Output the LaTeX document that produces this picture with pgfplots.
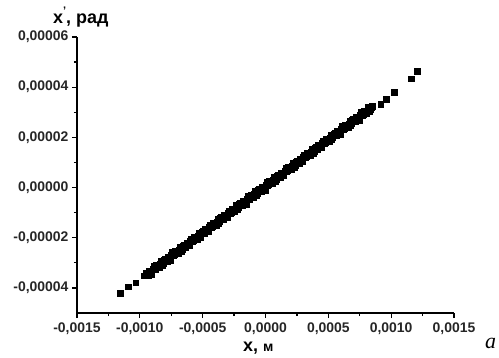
\documentclass[border=0pt]{standalone}
\usepackage{fontspec}
\setmainfont{Liberation Sans}
\newfontfamily\serifit{Liberation Serif}
\usepackage{pgfplots}
\usepackage{pgfplotstable}
\pgfplotsset{compat=1.18}

% angle x' (rad) versus displacement x (m)
\pgfplotstableread{
x y
-11.58e-4 -42.0e-6
-10.92e-4 -39.5e-6
-10.33e-4 -37.9e-6
-9.67e-4 -35.1e-6
-9.50e-4 -34.0e-6
-9.35e-4 -35.0e-6
-9.20e-4 -33.5e-6
-9.05e-4 -34.4e-6
-8.90e-4 -31.5e-6
-8.75e-4 -32.4e-6
-8.60e-4 -31.0e-6
-8.45e-4 -31.8e-6
-8.30e-4 -29.2e-6
-8.15e-4 -30.2e-6
-8.00e-4 -28.5e-6
-7.85e-4 -29.4e-6
-7.70e-4 -27.9e-6
-7.55e-4 -28.8e-6
-7.40e-4 -25.9e-6
-7.25e-4 -26.8e-6
-7.10e-4 -25.4e-6
-6.95e-4 -26.3e-6
-6.80e-4 -23.6e-6
-6.65e-4 -24.6e-6
-6.50e-4 -22.9e-6
-6.35e-4 -23.8e-6
-6.20e-4 -22.4e-6
-6.05e-4 -23.2e-6
-5.90e-4 -20.4e-6
-5.75e-4 -21.2e-6
-5.60e-4 -19.8e-6
-5.45e-4 -20.7e-6
-5.30e-4 -18.0e-6
-5.15e-4 -19.1e-6
-5.00e-4 -17.3e-6
-4.85e-4 -18.2e-6
-4.70e-4 -16.8e-6
-4.55e-4 -17.6e-6
-4.40e-4 -14.8e-6
-4.25e-4 -15.6e-6
-4.10e-4 -14.3e-6
-3.95e-4 -15.1e-6
-3.80e-4 -12.4e-6
-3.65e-4 -13.5e-6
-3.50e-4 -11.7e-6
-3.35e-4 -12.7e-6
-3.20e-4 -11.2e-6
-3.05e-4 -12.0e-6
-2.90e-4 -9.2e-6
-2.75e-4 -10.0e-6
-2.60e-4 -8.7e-6
-2.45e-4 -9.5e-6
-2.30e-4 -6.9e-6
-2.15e-4 -7.9e-6
-2.00e-4 -6.1e-6
-1.85e-4 -7.1e-6
-1.70e-4 -5.6e-6
-1.55e-4 -6.5e-6
-1.40e-4 -3.6e-6
-1.25e-4 -4.5e-6
-1.10e-4 -3.1e-6
-0.95e-4 -3.9e-6
-0.80e-4 -1.3e-6
-0.65e-4 -2.3e-6
-0.50e-4 -0.6e-6
-0.35e-4 -1.5e-6
-0.20e-4 0.0e-6
-0.05e-4 -0.9e-6
0.10e-4 2.0e-6
0.25e-4 1.1e-6
0.40e-4 2.5e-6
0.55e-4 1.7e-6
0.70e-4 4.3e-6
0.85e-4 3.3e-6
1.00e-4 5.0e-6
1.15e-4 4.1e-6
1.30e-4 5.5e-6
1.45e-4 4.7e-6
1.60e-4 7.6e-6
1.75e-4 6.7e-6
1.90e-4 8.1e-6
2.05e-4 7.2e-6
2.20e-4 9.9e-6
2.35e-4 8.8e-6
2.50e-4 10.6e-6
2.65e-4 9.7e-6
2.80e-4 11.1e-6
2.95e-4 10.3e-6
3.10e-4 13.1e-6
3.25e-4 12.3e-6
3.40e-4 13.7e-6
3.55e-4 12.8e-6
3.70e-4 15.5e-6
3.85e-4 14.4e-6
4.00e-4 16.2e-6
4.15e-4 15.2e-6
4.30e-4 16.7e-6
4.45e-4 15.9e-6
4.60e-4 18.7e-6
4.75e-4 17.9e-6
4.90e-4 19.2e-6
5.05e-4 18.4e-6
5.20e-4 21.0e-6
5.35e-4 20.0e-6
5.50e-4 21.8e-6
5.65e-4 20.8e-6
5.80e-4 22.3e-6
5.95e-4 21.4e-6
6.10e-4 24.3e-6
6.25e-4 23.5e-6
6.40e-4 24.8e-6
6.55e-4 24.0e-6
6.70e-4 26.6e-6
6.85e-4 25.6e-6
7.00e-4 27.3e-6
7.15e-4 26.4e-6
7.30e-4 27.9e-6
7.45e-4 27.0e-6
7.60e-4 29.9e-6
7.75e-4 29.0e-6
7.90e-4 30.4e-6
8.05e-4 29.6e-6
8.20e-4 32.2e-6
8.35e-4 31.2e-6
8.50e-4 32.4e-6
9.16e-4 33.3e-6
9.58e-4 35.2e-6
10.24e-4 38.0e-6
11.57e-4 43.4e-6
12.10e-4 46.5e-6
-9.425e-4 -34.86e-6
-9.275e-4 -33.40e-6
-9.125e-4 -34.24e-6
-8.975e-4 -32.49e-6
-8.825e-4 -32.43e-6
-8.675e-4 -30.87e-6
-8.525e-4 -31.81e-6
-8.375e-4 -30.35e-6
-8.225e-4 -31.10e-6
-8.075e-4 -28.84e-6
-7.925e-4 -29.28e-6
-7.775e-4 -27.82e-6
-7.625e-4 -28.66e-6
-7.475e-4 -26.91e-6
-7.325e-4 -26.85e-6
-7.175e-4 -25.29e-6
-7.025e-4 -26.23e-6
-6.875e-4 -24.77e-6
-6.725e-4 -25.52e-6
-6.575e-4 -23.26e-6
-6.425e-4 -23.70e-6
-6.275e-4 -22.24e-6
-6.125e-4 -23.08e-6
-5.975e-4 -21.33e-6
-5.825e-4 -21.27e-6
-5.675e-4 -19.71e-6
-5.525e-4 -20.65e-6
-5.375e-4 -19.19e-6
-5.225e-4 -19.94e-6
-5.075e-4 -17.68e-6
-4.925e-4 -18.12e-6
-4.775e-4 -16.66e-6
-4.625e-4 -17.50e-6
-4.475e-4 -15.75e-6
-4.325e-4 -15.69e-6
-4.175e-4 -14.13e-6
-4.025e-4 -15.07e-6
-3.875e-4 -13.61e-6
-3.725e-4 -14.36e-6
-3.575e-4 -12.10e-6
-3.425e-4 -12.54e-6
-3.275e-4 -11.08e-6
-3.125e-4 -11.92e-6
-2.975e-4 -10.17e-6
-2.825e-4 -10.11e-6
-2.675e-4 -8.55e-6
-2.525e-4 -9.49e-6
-2.375e-4 -8.03e-6
-2.225e-4 -8.78e-6
-2.075e-4 -6.52e-6
-1.925e-4 -6.96e-6
-1.775e-4 -5.50e-6
-1.625e-4 -6.34e-6
-1.475e-4 -4.59e-6
-1.325e-4 -4.53e-6
-1.175e-4 -2.97e-6
-1.025e-4 -3.91e-6
-0.875e-4 -2.45e-6
-0.725e-4 -3.20e-6
-0.575e-4 -0.94e-6
-0.425e-4 -1.38e-6
-0.275e-4 0.08e-6
-0.125e-4 -0.76e-6
0.025e-4 0.99e-6
0.175e-4 1.05e-6
0.325e-4 2.61e-6
0.475e-4 1.67e-6
0.625e-4 3.13e-6
0.775e-4 2.38e-6
0.925e-4 4.64e-6
1.075e-4 4.20e-6
1.225e-4 5.66e-6
1.375e-4 4.82e-6
1.525e-4 6.57e-6
1.675e-4 6.63e-6
1.825e-4 8.19e-6
1.975e-4 7.25e-6
2.125e-4 8.71e-6
2.275e-4 7.96e-6
2.425e-4 10.22e-6
2.575e-4 9.78e-6
2.725e-4 11.24e-6
2.875e-4 10.40e-6
3.025e-4 12.15e-6
3.175e-4 12.21e-6
3.325e-4 13.77e-6
3.475e-4 12.83e-6
3.625e-4 14.29e-6
3.775e-4 13.54e-6
3.925e-4 15.80e-6
4.075e-4 15.36e-6
4.225e-4 16.82e-6
4.375e-4 15.98e-6
4.525e-4 17.73e-6
4.675e-4 17.79e-6
4.825e-4 19.35e-6
4.975e-4 18.41e-6
5.125e-4 19.87e-6
5.275e-4 19.12e-6
5.425e-4 21.38e-6
5.575e-4 20.94e-6
5.725e-4 22.40e-6
5.875e-4 21.56e-6
6.025e-4 23.31e-6
6.175e-4 23.37e-6
6.325e-4 24.93e-6
6.475e-4 23.99e-6
6.625e-4 25.45e-6
6.775e-4 24.70e-6
6.925e-4 26.96e-6
7.075e-4 26.52e-6
7.225e-4 27.98e-6
7.375e-4 27.14e-6
7.525e-4 28.89e-6
7.675e-4 28.95e-6
7.825e-4 30.51e-6
7.975e-4 29.57e-6
8.125e-4 31.03e-6
8.275e-4 30.28e-6
8.425e-4 31.94e-6
}\scan

\begin{document}
\begin{tikzpicture}
\useasboundingbox (-77bp,-45bp) rectangle (422bp,313bp);
\begin{axis}[
  at={(0,0)}, anchor=south west,
  scale only axis,
  width=377bp, height=276bp,
  xmin=-0.0015, xmax=0.0015,
  ymin=-0.00005, ymax=0.00006,
  axis x line*=bottom, axis y line*=left,
  axis line style={line width=1.5bp, black},
  xtick={-0.0015,-0.001,-0.0005,0,0.0005,0.001,0.0015},
  xticklabels={{-0,0015},{-0,0010},{-0,0005},{0,0000},{0,0005},{0,0010},{0,0015}},
  ytick={-0.00004,-0.00002,0,0.00002,0.00004,0.00006},
  yticklabels={{-0,00004},{-0,00002},{0,00000},{0,00002},{0,00004},{0,00006}},
  scaled ticks=false,
  minor x tick num=1, minor y tick num=1,
  tick align=outside,
  major tick length=5bp, minor tick length=3bp,
  every tick/.style={line width=1.3bp, black},
  tick label style={font=\fontsize{14}{16}\selectfont\bfseries, text=black!85},
  xticklabel style={yshift=-1bp},
  clip=false,
]
\addplot[only marks, mark=square*, mark size=2.9bp, black] table[x=x, y=y] {\scan};
\end{axis}
% axis titles
\node[anchor=base west, inner sep=0pt, font=\fontsize{18}{20}\selectfont\bfseries]
  at (-24bp,289bp) {x\raisebox{9bp}{\fontsize{11}{11}\selectfont'}, рад};
\node[anchor=base west, inner sep=0pt, font=\fontsize{18}{20}\selectfont\bfseries]
  at (166bp,-38bp) {x, {\fontsize{14}{15}\selectfont м}};
\node[anchor=base west, inner sep=0pt, font=\fontsize{22}{24}\selectfont\serifit\itshape]
  at (408bp,-35bp) {a};
\end{tikzpicture}
\end{document}
